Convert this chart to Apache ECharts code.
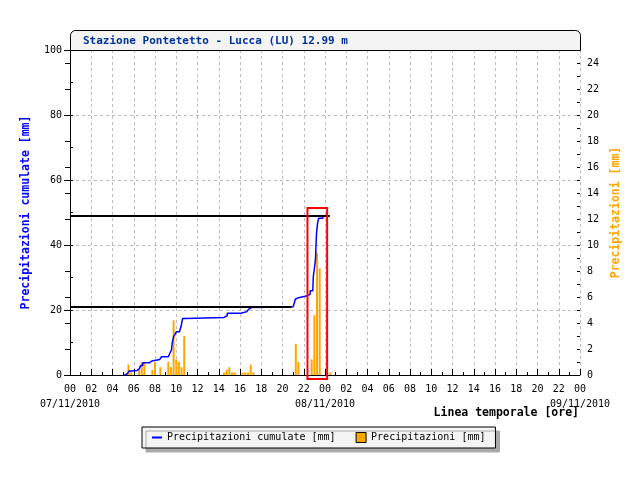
<!DOCTYPE html>
<html>
<head>
<meta charset="utf-8">
<script src="https://cdn.jsdelivr.net/npm/echarts@6/dist/echarts.min.js"></script>
<style>html,body{margin:0;padding:0;background:#fff;}#c{width:640px;height:480px;}</style>
</head>
<body>
<div id="c"></div>
<script>
// ---- data ----
const dateLabels = ['07/11/2010', '08/11/2010', '09/11/2010'];
const cumTimes = [5.0,5.2,5.4,5.55,5.75,6.3,6.5,6.65,6.85,7.5,7.7,8.45,8.6,9.25,9.4,9.55,9.62,9.75,9.88,10.0,10.3,10.45,10.6,10.8,14.5,14.8,16.1,16.65,16.8,16.95,17.1,21.0,21.15,21.2,21.35,21.5,22.35,22.5,22.6,22.85,22.9,23.0,23.1,23.15,23.2,23.3,23.4,23.8,24.45];
const cumValues = [0,0.4,0.8,1.2,1.4,1.8,2.3,2.9,3.8,4.3,4.8,5.3,5.6,6.2,6.7,7.7,9.9,11.8,12.5,13.3,13.6,14.9,17.4,17.7,18.3,19.0,19.5,19.8,20.2,20.8,21.0,21.5,22.6,23.3,23.8,24.4,24.6,24.8,25.9,26.2,30.3,32.8,35.4,39.5,43.6,46.7,48.2,48.9,49.0];
const rainTimes = [5.5,5.75,6.5,6.75,7.0,7.75,8.0,8.5,9.25,9.5,9.75,10.0,10.25,10.5,10.75,14.5,14.75,15.0,15.25,15.5,16.25,16.5,16.75,17.0,17.25,21.25,21.5,22.75,23.0,23.25,23.5,24.5];
const rainValues = [0.8,0.2,0.4,1.0,1.0,0.4,1.0,0.6,1.0,0.6,4.2,1.2,1.0,0.6,3.0,0.2,0.4,0.6,0.2,0.2,0.2,0.2,0.2,0.8,0.2,2.4,1.0,1.2,4.6,9.4,8.2,0.2];
const refLevels = [21, 49];          // black reference lines (mm)
const refEnds = [20.85, 24.45];      // hours where they end
const boxHours = [22.35, 24.2];      // red window
const boxMm = [-1.2, 51.4];

const FONT = 'DejaVu Sans Mono';
const cumData = cumTimes.map((t, i) => [t, cumValues[i]]);
const rainData = rainTimes.map((t, i) => [t, rainValues[i]]);
const pad = n => (n < 10 ? '0' : '') + n;
const BLK = {color: '#000'};

const chart = echarts.init(document.getElementById('c'), null, {renderer: 'canvas'});
const option = {
  backgroundColor: '#fff',
  animation: false,
  grid: {left: 70, right: 60, top: 50, bottom: 105, containLabel: false},
  legend: {
    left: 142, top: 427,
    padding: [5, 10, 5, 10],
    itemGap: 20, itemWidth: 10, itemHeight: 10,
    backgroundColor: '#f4f4f4', borderColor: '#000', borderWidth: 1,
    shadowColor: '#aaa', shadowBlur: 0, shadowOffsetX: 4, shadowOffsetY: 4,
    textStyle: {fontFamily: FONT, fontSize: 10, color: '#000'},
    data: [
      {name: 'Precipitazioni cumulate [mm]', icon: 'path://M0,0H10V2H0Z', itemStyle: {color: '#0000ff'}},
      {name: 'Precipitazioni [mm]', icon: 'rect', itemStyle: {borderColor: '#000', borderWidth: 1}}
    ]
  },
  xAxis: [
    {
      type: 'value', min: 0, max: 48, interval: 2,
      axisLine: {lineStyle: BLK},
      axisTick: {inside: true, length: 6, lineStyle: BLK},
      splitLine: {show: true, lineStyle: {color: '#bbb', type: [3, 3]}},
      axisLabel: {
        margin: 9, fontFamily: FONT, fontSize: 10, color: '#000',
        showMinLabel: true, showMaxLabel: true, hideOverlap: false,
        formatter: v => pad(v % 24)
      }
    },
    { // hourly minor ticks
      type: 'value', min: 0, max: 48, interval: 1, position: 'bottom',
      axisLine: {show: false}, axisLabel: {show: false}, splitLine: {show: false},
      axisTick: {inside: true, length: 3, lineStyle: BLK}
    },
    { // date labels
      type: 'value', min: 0, max: 48, interval: 24, position: 'bottom',
      axisLine: {show: false}, axisTick: {show: false}, splitLine: {show: false},
      axisLabel: {
        margin: 24, fontFamily: FONT, fontSize: 10, color: '#000',
        showMinLabel: true, showMaxLabel: true, hideOverlap: false,
        formatter: v => dateLabels[v / 24]
      }
    }
  ],
  yAxis: [
    {
      type: 'value', min: 0, max: 100, interval: 20,
      name: 'Precipitazioni cumulate [mm]', nameLocation: 'middle', nameGap: 38,
      nameTextStyle: {fontFamily: FONT, fontSize: 11.5, fontWeight: 'bold', color: '#0000ff'},
      axisLine: {show: true, lineStyle: BLK},
      axisTick: {show: true, inside: false, length: 6, lineStyle: BLK},
      splitLine: {show: true, lineStyle: {color: '#bbb', type: [3, 3]}},
      axisLabel: {margin: 8, fontFamily: FONT, fontSize: 10, color: '#000'}
    },
    {
      type: 'value', min: 0, max: 25, interval: 2, position: 'right',
      name: 'Precipitazioni [mm]', nameLocation: 'middle', nameGap: 24,
      nameTextStyle: {fontFamily: FONT, fontSize: 11.5, fontWeight: 'bold', color: '#ffa500'},
      axisLine: {show: true, lineStyle: BLK},
      axisTick: {show: true, inside: false, length: -5, lineStyle: BLK},
      splitLine: {show: false},
      axisLabel: {margin: 7, fontFamily: FONT, fontSize: 10, color: '#000', showMaxLabel: false}
    },
    { // left minor ticks
      type: 'value', min: 0, max: 100, interval: 10, position: 'left',
      axisLine: {show: false}, axisLabel: {show: false}, splitLine: {show: false},
      axisTick: {show: true, inside: false, length: -3, lineStyle: BLK}
    },
    { // right minor ticks
      type: 'value', min: 0, max: 25, interval: 1, position: 'right',
      axisLine: {show: false}, axisLabel: {show: false}, splitLine: {show: false},
      axisTick: {show: true, inside: false, length: -3, lineStyle: BLK}
    }
  ],
  series: [
    {
      name: 'Precipitazioni cumulate [mm]', type: 'line', yAxisIndex: 0,
      data: cumData, step: 'end', symbol: 'none',
      lineStyle: {color: '#0000ff', width: 1.5}, itemStyle: {color: '#0000ff'},
      z: 3,
      markLine: {
        silent: true, symbol: ['none', 'none'], label: {show: false},
        lineStyle: {color: '#000', width: 2, type: 'solid'},
        emphasis: {disabled: true},
        data: refLevels.map((lv, i) => [{coord: [0, lv]}, {coord: [refEnds[i], lv]}])
      }
    },
    {
      name: 'Precipitazioni [mm]', type: 'bar', yAxisIndex: 1,
      data: rainData, barWidth: 2,
      itemStyle: {color: '#ffa500'}, z: 2
    }
  ],
  graphic: [
    {id: 'titleBox', type: 'rect', shape: {x: 70.5, y: 30.5, width: 510, height: 20, r: [5, 5, 0, 0]},
     style: {fill: '#f4f4f4', stroke: '#000', lineWidth: 1}, z: 10},
    {id: 'titleText', type: 'text', x: 83, y: 41, z: 11,
     style: {text: 'Stazione Pontetetto - Lucca (LU) 12.99 m', fill: '#003399',
             font: 'bold 11px "DejaVu Sans Mono"', verticalAlign: 'middle', textAlign: 'left'}},
    {id: 'xName', type: 'text', x: 579, y: 413, z: 11,
     style: {text: 'Linea temporale [ore]', fill: '#000',
             font: 'bold 11.5px "DejaVu Sans Mono"', verticalAlign: 'middle', textAlign: 'right'}}
  ]
};
chart.setOption(option);

// red window rectangle, positioned through the axes' scales
const p0 = chart.convertToPixel({xAxisIndex: 0, yAxisIndex: 0}, [boxHours[0], boxMm[1]]);
const p1 = chart.convertToPixel({xAxisIndex: 0, yAxisIndex: 0}, [boxHours[1], boxMm[0]]);
chart.setOption({
  graphic: [
    {id: 'redBox', type: 'rect', z: 20,
     shape: {x: p0[0], y: p0[1], width: p1[0] - p0[0], height: p1[1] - p0[1]},
     style: {fill: 'none', stroke: '#ff0000', lineWidth: 2}}
  ]
});
</script>
</body>
</html>
